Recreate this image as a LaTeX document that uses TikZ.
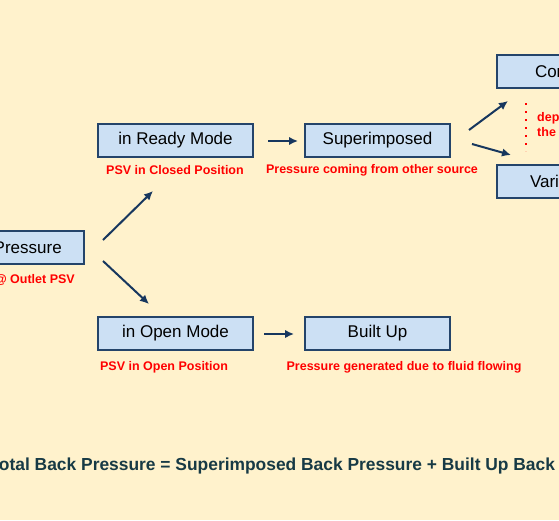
\documentclass[tikz,border=0pt]{standalone}
\usepackage{fontspec}
\setmainfont{Liberation Sans}
\usetikzlibrary{arrows.meta}
\definecolor{bg}{HTML}{FFF2CC}
\definecolor{boxfill}{HTML}{CCE0F4}
\definecolor{boxline}{HTML}{24446A}
\definecolor{arr}{HTML}{17375E}
\definecolor{eqc}{HTML}{173A45}
\tikzset{
  box/.style={draw=boxline, line width=1.8pt, fill=boxfill, minimum height=33pt, inner sep=0pt, font=\fontsize{17}{20}\selectfont, text=black},
  wbox/.style={box, minimum width=155pt},
  nbox/.style={box, minimum width=145pt},
  lbox/.style={box, text width=145pt, align=left},
  lab/.style={text=red, font=\bfseries\fontsize{12.5}{14}\selectfont, inner sep=0pt},
  conn/.style={draw=arr, line width=2pt, -{Latex[length=9pt,width=8.5pt]}}
}
\begin{document}
\begin{tikzpicture}[x=1pt,y=-1pt]
\useasboundingbox (0,0) rectangle (559,520);
\fill[bg] (0,0) rectangle (559,520);
\clip (0,0) rectangle (559,520);
% nodes
\node[wbox] (bp) at (6.5,247.5) {Back Pressure};
\node[lab, anchor=east] (bpl) at (75,280) {@ Outlet PSV};
\node[wbox] (ready) at (175.5,140.5) {in Ready Mode};
\node[lab] (readyl) at (175,170) {PSV in Closed Position};
\node[nbox] (sup) at (377.5,140.5) {Superimposed};
\node[lab] (supl) at (372,170) {Pressure coming from other source};
\node[lbox] (con) at (569.5,71.5) {\hspace*{38pt}Constant};
\node[lbox] (var) at (569.5,181.5) {\hspace*{33pt}Variable};
\node[lab, anchor=west, align=left, font=\bfseries\fontsize{12.5}{15}\selectfont] (dep) at (537,125) {depends on\\the source};
\node[wbox] (open) at (175.5,333.5) {in Open Mode};
\node[lab] (openl) at (164,367) {PSV in Open Position};
\node[nbox] (bu) at (377.5,333.5) {Built Up};
\node[lab] (bul) at (404,367) {Pressure generated due to fluid flowing};
\node[text=eqc, font=\bfseries\fontsize{17.4}{20}\selectfont, inner sep=0pt] (eq) at (312,466) {Total Back Pressure = Superimposed Back Pressure + Built Up Back Pressure};
% connector anchor points
\coordinate (a1s) at (103,240); \coordinate (a1e) at (153,191);
\coordinate (a2s) at (103,261); \coordinate (a2e) at (149,304);
\coordinate (a3s) at (268,141); \coordinate (a3e) at (298,141);
\coordinate (a4s) at (469,130); \coordinate (a4e) at (508,101);
\coordinate (a5s) at (472,144); \coordinate (a5e) at (511,155);
\coordinate (a6s) at (264,334); \coordinate (a6e) at (294,334);
\draw[conn] (a1s) -- (a1e);
\draw[conn] (a2s) -- (a2e);
\draw[conn] (a3s) -- (a3e);
\draw[conn] (a4s) -- (a4e);
\draw[conn] (a5s) -- (a5e);
\draw[conn] (a6s) -- (a6e);
\coordinate (d1) at (526,103); \coordinate (d2) at (526,151);
\draw[red, line width=1.6pt, dash pattern=on 1.6pt off 6.4pt] (d1) -- (d2);
\end{tikzpicture}
\end{document}
